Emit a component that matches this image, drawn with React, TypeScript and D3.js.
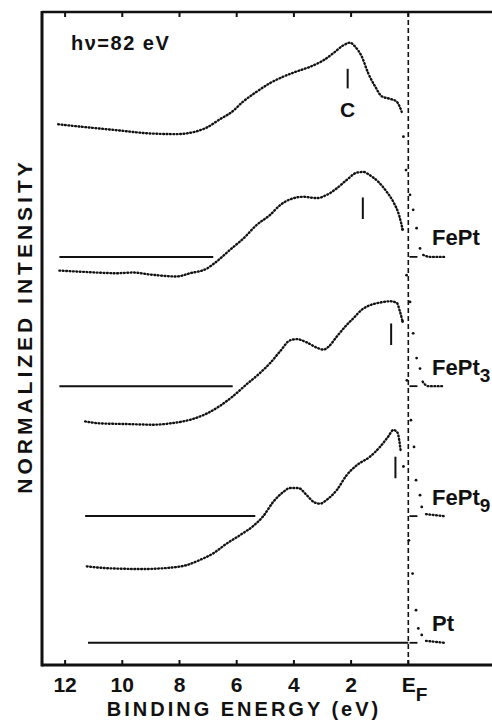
import React, { useRef, useEffect } from 'react';
import * as d3 from 'd3';

const W = 492;
const H = 721;
const MARGIN = { top: 12, right: 0, bottom: 56, left: 42 };
const FONT = '"Liberation Sans", Arial, Helvetica, sans-serif';

// binding energy ticks (eV), 0 is drawn as E_F
const TICKS = [12, 10, 8, 6, 4, 2, 0];

// spectra: [binding energy (eV), normalized intensity incl. vertical offset]
const fePtTop: [number, number][] = [
  [12.24, 82.8], [11.37, 82.4], [10.2, 81.9], [9.03, 81.4], [8.1, 81.3], [7.52, 81.6],
  [7.05, 82.3], [6.58, 83.6], [6.17, 84.7], [5.77, 86.3], [5.3, 87.8], [4.84, 89.1],
  [4.37, 90.1], [3.9, 90.9], [3.44, 91.6], [2.97, 92.6], [2.62, 93.7], [2.27, 94.9],
  [2.04, 95.3], [1.86, 94.7], [1.63, 93.2], [1.4, 90.6], [1.16, 88.6], [0.93, 87.1],
  [0.64, 86.7], [0.41, 86.3], [0.23, 84.7], [0.17, 80.9], [0.08, 75.8], [-0.06, 72.0],
  [-0.17, 69.7], [-0.29, 66.9], [-0.41, 63.8], [-0.52, 62.8], [-0.76, 62.5], [-1.32, 62.5],
];

const fePt3: [number, number][] = [
  [12.2, 60.4], [11.36, 60.2], [10.2, 60.0], [9.62, 60.1], [9.03, 59.8], [8.1, 59.5],
  [7.63, 60.0], [7.05, 60.7], [6.7, 61.8], [6.23, 63.6], [5.77, 65.3], [5.3, 67.4],
  [4.84, 68.9], [4.49, 70.4], [4.14, 71.3], [3.67, 71.7], [3.2, 71.5], [2.85, 72.0],
  [2.5, 73.0], [2.15, 74.3], [1.8, 75.4], [1.57, 75.5], [1.34, 75.0], [1.05, 74.0],
  [0.76, 72.5], [0.52, 70.9], [0.31, 68.7], [0.2, 66.7], [0.06, 59.7], [-0.06, 55.6],
  [-0.17, 50.8], [-0.29, 47.0], [-0.41, 45.4], [-0.5, 43.4], [-0.69, 42.7], [-1.25, 42.7],
];

const fePt9: [number, number][] = [
  [11.3, 37.3], [10.78, 37.0], [9.85, 36.9], [8.92, 36.8], [8.33, 37.0], [7.52, 37.7],
  [7.05, 38.5], [6.58, 39.7], [6.12, 41.2], [5.65, 43.0], [5.19, 44.7], [4.84, 46.2],
  [4.49, 48.0], [4.14, 49.7], [3.9, 49.9], [3.55, 49.4], [3.2, 48.6], [2.97, 48.3],
  [2.8, 48.7], [2.5, 50.3], [2.15, 52.1], [1.92, 53.1], [1.63, 54.4], [1.34, 55.1],
  [0.99, 55.5], [0.64, 55.7], [0.41, 55.5], [0.29, 54.1], [0.2, 52.6], [0.05, 43.6],
  [-0.09, 37.5], [-0.2, 33.4], [-0.27, 28.3], [-0.41, 26.0], [-0.47, 24.2], [-0.62, 23.1],
  [-1.25, 22.8],
];

const pt: [number, number][] = [
  [11.24, 15.1], [10.43, 14.8], [9.27, 14.7], [8.33, 14.9], [7.75, 15.3], [7.28, 16.1],
  [6.82, 17.1], [6.35, 18.6], [5.88, 19.9], [5.42, 21.3], [5.07, 22.8], [4.72, 25.0],
  [4.37, 26.5], [4.14, 27.1], [3.85, 27.1], [3.55, 26.0], [3.32, 25.0], [3.09, 24.7],
  [2.85, 25.3], [2.5, 26.8], [2.15, 29.1], [1.8, 30.6], [1.34, 31.9], [0.99, 33.4],
  [0.7, 35.0], [0.52, 36.0], [0.38, 35.6], [0.27, 32.9], [0.17, 30.4], [-0.02, 19.1],
  [-0.15, 14.0], [-0.27, 8.4], [-0.35, 5.6], [-0.47, 4.6], [-0.62, 3.7], [-1.25, 3.4],
];

const SPECTRA = [fePtTop, fePt3, fePt9, pt];
const SAMPLE_NAMES = ['FePt', 'FePt', 'FePt', 'Pt'];
const SAMPLE_SUBS = ['', '3', '9', ''];
const BASELINES = [62.5, 42.7, 22.8, 3.4];
const BASELINE_FROM = [12.2, 12.2, 11.3, 11.2];
const BASELINE_TO = [6.82, 6.14, 5.35, 0];
// vertical bars marking the d-band peak
const PEAK_E = [2.12, 1.59, 0.6, 0.45];
const PEAK_TOP = [91.3, 71.6, 52.3, 31.9];
const PEAK_BOTTOM = [88.3, 68.3, 49.0, 28.6];

export default function App() {
  const svgRef = useRef<SVGSVGElement>(null);

  useEffect(() => {
    const svg = d3.select(svgRef.current);
    svg.selectAll('*').remove();

    const x = d3.scaleLinear().domain([0, 12]).range([408.3, 65.1]);
    const y = d3.scaleLinear().domain([0, 100]).range([H - MARGIN.bottom, MARGIN.top]);
    const x0 = MARGIN.left;
    const yTop = MARGIN.top;
    const yBot = H - MARGIN.bottom;

    const g = svg.append('g').attr('font-family', FONT).attr('font-weight', 'bold').attr('fill', '#111');

    // frame
    g.append('line').attr('x1', x0).attr('x2', W).attr('y1', yTop).attr('y2', yTop)
      .attr('stroke', '#111').attr('stroke-width', 2.5);
    g.append('line').attr('x1', x0).attr('x2', W).attr('y1', yBot).attr('y2', yBot)
      .attr('stroke', '#111').attr('stroke-width', 3);
    g.append('line').attr('x1', x0).attr('x2', x0).attr('y1', yTop - 1).attr('y2', yBot + 1.5)
      .attr('stroke', '#111').attr('stroke-width', 3);

    // ticks (inward, top and bottom)
    TICKS.forEach(t => {
      g.append('line').attr('x1', x(t)).attr('x2', x(t)).attr('y1', yTop).attr('y2', yTop + 5)
        .attr('stroke', '#111').attr('stroke-width', 2);
      g.append('line').attr('x1', x(t)).attr('x2', x(t)).attr('y1', yBot - 5).attr('y2', yBot)
        .attr('stroke', '#111').attr('stroke-width', 2);
      if (t === 0) {
        const lab = g.append('text').attr('x', x(t) - 6.5).attr('y', yBot + 27).attr('font-size', 21);
        lab.append('tspan').text('E');
        lab.append('tspan').attr('dy', 9).attr('font-size', 19).text('F');
      } else {
        g.append('text').attr('x', x(t)).attr('y', yBot + 27).attr('text-anchor', 'middle')
          .attr('font-size', 21).text(t);
      }
    });

    // Fermi level
    g.append('line').attr('x1', x(0)).attr('x2', x(0)).attr('y1', yTop).attr('y2', yBot)
      .attr('stroke', '#111').attr('stroke-width', 1.6).attr('stroke-dasharray', '5,3');

    // axis titles
    g.append('text').attr('x', 244).attr('y', 716).attr('text-anchor', 'middle')
      .attr('font-size', 20).attr('letter-spacing', 3).text('BINDING ENERGY (eV)');
    g.append('text').attr('transform', 'translate(31.5,326) rotate(-90)').attr('text-anchor', 'middle')
      .attr('font-size', 21).attr('letter-spacing', 4).text('NORMALIZED INTENSITY');
    g.append('text').attr('x', 71).attr('y', 50).attr('font-size', 20).attr('letter-spacing', 1.5)
      .text('h\u03bd=82 eV');

    const line = d3.line<[number, number]>()
      .x(d => x(d[0]))
      .y(d => y(d[1]))
      .curve(d3.curveMonotoneX);

    SPECTRA.forEach((s, i) => {
      const base = BASELINES[i];

      // zero-intensity reference line
      g.append('line').attr('x1', x(BASELINE_FROM[i])).attr('x2', x(BASELINE_TO[i]))
        .attr('y1', y(base)).attr('y2', y(base)).attr('stroke', '#111').attr('stroke-width', 2);
      g.append('line').attr('x1', x(-0.04)).attr('x2', x(-0.32))
        .attr('y1', y(base)).attr('y2', y(base)).attr('stroke', '#111').attr('stroke-width', 1.8);

      // dotted spectrum: dense part, sparse Fermi edge points, tail
      const dotted = (pts: [number, number][]) => g.append('path').datum(pts).attr('d', line)
        .attr('fill', 'none').attr('stroke', '#111').attr('stroke-width', 2.4)
        .attr('stroke-linecap', 'round').attr('stroke-dasharray', '0.8,2.6');
      dotted(s.filter(d => d[0] >= 0.2));
      dotted(s.filter(d => d[0] <= -0.5));
      g.selectAll(null).data(s.filter(d => d[0] < 0.22 && d[0] > -0.5)).join('circle')
        .attr('cx', d => x(d[0])).attr('cy', d => y(d[1])).attr('r', 1.4).attr('fill', '#111');

      // peak marker
      g.append('line').attr('x1', x(PEAK_E[i])).attr('x2', x(PEAK_E[i]))
        .attr('y1', y(PEAK_TOP[i])).attr('y2', y(PEAK_BOTTOM[i]))
        .attr('stroke', '#111').attr('stroke-width', 2);

      // sample label
      const lab = g.append('text').attr('x', x(-0.83)).attr('y', y(base) - 11.5).attr('font-size', 22);
      lab.append('tspan').text(SAMPLE_NAMES[i]);
      if (SAMPLE_SUBS[i]) lab.append('tspan').attr('dy', 7).attr('font-size', 19).text(SAMPLE_SUBS[i]);
    });

    g.append('text').attr('x', x(PEAK_E[0])).attr('y', 116.5).attr('text-anchor', 'middle')
      .attr('font-size', 21).text('C');
  }, []);

  return (
    <svg
      ref={svgRef}
      width={W}
      height={H}
      style={{ position: 'absolute', left: 0, top: 0, display: 'block', background: '#fff' }}
    />
  );
}
